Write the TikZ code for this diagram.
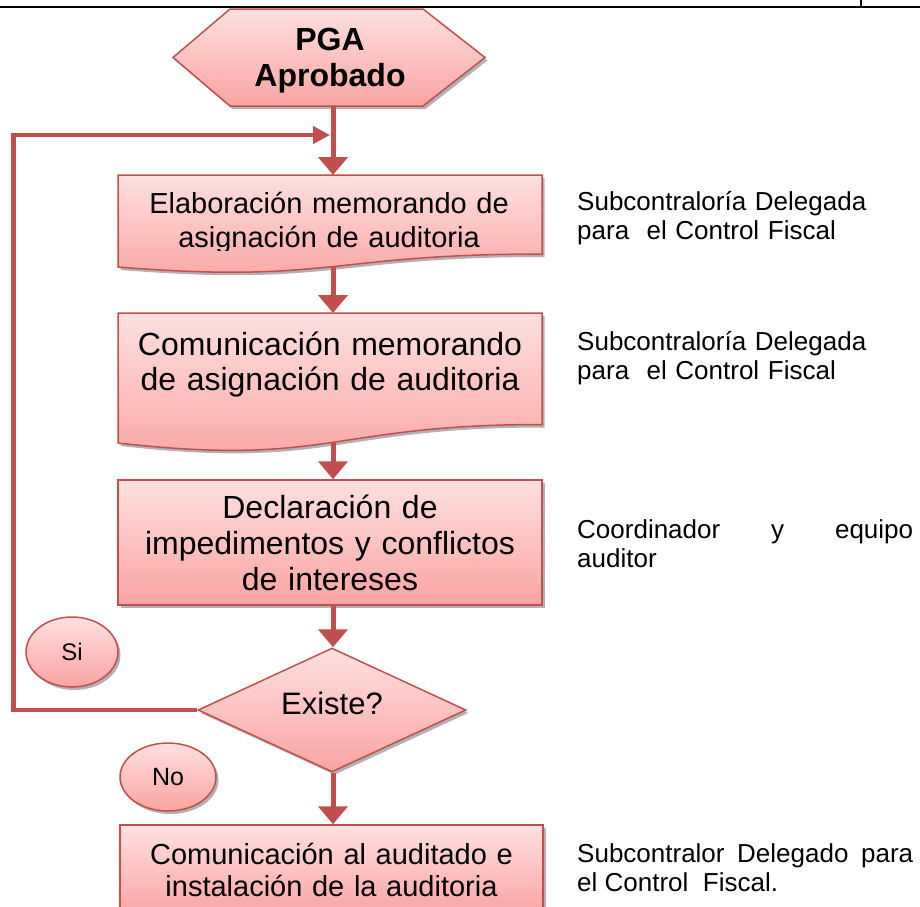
\documentclass[tikz,border=0pt]{standalone}
\usepackage{fontspec}
\setmainfont{Liberation Sans}
\usetikzlibrary{shapes.geometric,arrows.meta,shadows}
\definecolor{rojo}{RGB}{192,80,77}
\definecolor{rosaA}{RGB}{255,224,224}
\definecolor{rosaB}{RGB}{249,164,162}
\tikzset{
    caja/.style={draw=rojo, line width=1.5pt, top color=rosaA, bottom color=rosaB,
        drop shadow={shadow xshift=2.5pt, shadow yshift=-3pt, fill=black!60, opacity=0.5}},
    flecha/.style={rojo, line width=5pt, -{Triangle[width=29pt,length=18pt]}},
    texto/.style={align=center, inner sep=0pt},
    nota/.style={anchor=base west, inner sep=0pt, text width=336pt, font=\fontsize{26}{29}\selectfont},
}

\begin{document}
\begin{tikzpicture}[x=1pt,y=-1pt]
    \useasboundingbox (0,0) rectangle (920,906);
    % borde de la tabla
    \draw[line width=2pt] (0,6.5) -- (920,6.5);
    \draw[line width=1.5pt] (861,0) -- (861,6.5);
    % inicio
    \path[caja] (230,9) -- (423,9) -- (485,57.5) -- (423,106) -- (230,106) -- (173,57.5) -- cycle;
    \node[texto, text width=300pt, anchor=base, font=\bfseries\fontsize{32}{36}\selectfont] (pga) at (330,50) {PGA\\Aprobado};
    \coordinate (pgab) at (333,106);
    % documentos
    \path[caja] (118,175) -- (542,175) -- (542,254) .. controls (330,254) and (330,284) .. (118,267) -- cycle;
    \begin{scope}
        \clip (118,175) rectangle (542,250);
        \node[texto, text width=420pt, anchor=base, font=\fontsize{29}{34}\selectfont] (elab) at (329,213) {Elaboración memorando de\\asignación de auditoria};
    \end{scope}
    \coordinate (elabt) at (333,175);
    \coordinate (elabb) at (333,267);
    \path[caja] (118,313) -- (542,313) -- (542,424.5) .. controls (330,424.5) and (330,467) .. (118,443) -- cycle;
    \node[texto, text width=420pt, anchor=base, font=\fontsize{32}{35}\selectfont] (comu) at (330,355) {Comunicación memorando\\de asignación de auditoria};
    \coordinate (comut) at (333,313);
    \coordinate (comub) at (333,443);
    % procesos
    \node[caja, texto, text width=410pt, minimum width=424pt, minimum height=125pt, font=\fontsize{32}{36}\selectfont] (decl) at (330,542.5) {Declaración de\\impedimentos y conflictos\\de intereses};
    \node[caja, diamond, aspect=2.2, minimum width=268pt, minimum height=124pt, inner sep=0pt, text depth=14pt, font=\fontsize{31}{36}\selectfont] (exist) at (332,710) {Existe?};
    \node[caja, ellipse, minimum width=92pt, minimum height=70pt, inner sep=0pt, font=\fontsize{24}{28}\selectfont] (si) at (72,652) {Si};
    \node[caja, ellipse, minimum width=96pt, minimum height=68pt, inner sep=0pt, font=\fontsize{25}{28}\selectfont] (no) at (168,777) {No};
    \node[caja, texto, text width=410pt, minimum width=423pt, minimum height=90pt, font=\fontsize{29}{32}\selectfont] (inst) at (331.5,870) {Comunicación al auditado e\\instalación de la auditoria};
    % responsables
    \node[nota, align=left] (n1) at (577,210) {Subcontraloría Delegada\\para~ el Control Fiscal};
    \node[nota, align=left] (n2) at (577,350) {Subcontraloría Delegada\\para~ el Control Fiscal};
    \node[nota, align=justify] (n3) at (577,538) {Coordinador y equipo\linebreak auditor};
    \node[nota, align=justify] (n4) at (577,862) {Subcontralor Delegado para\linebreak el Control~ Fiscal.};
    % flechas
    \coordinate (lazo) at (333,135);
    \draw[flecha] (pgab) -- (elabt);
    \draw[flecha] (elabb) -- (comut);
    \draw[flecha] (comub) -- (comub |- decl.north);
    \draw[flecha] (decl.south -| comub) -- (comub |- exist.north);
    \draw[flecha] (exist.south -| comub) -- (comub |- inst.north);
    \draw[rojo, line width=4.5pt, -{Triangle[width=17pt,length=17pt]}, shorten >=3pt] (exist.west) -- ++(-184,0) |- (lazo);
\end{tikzpicture}
\end{document}
